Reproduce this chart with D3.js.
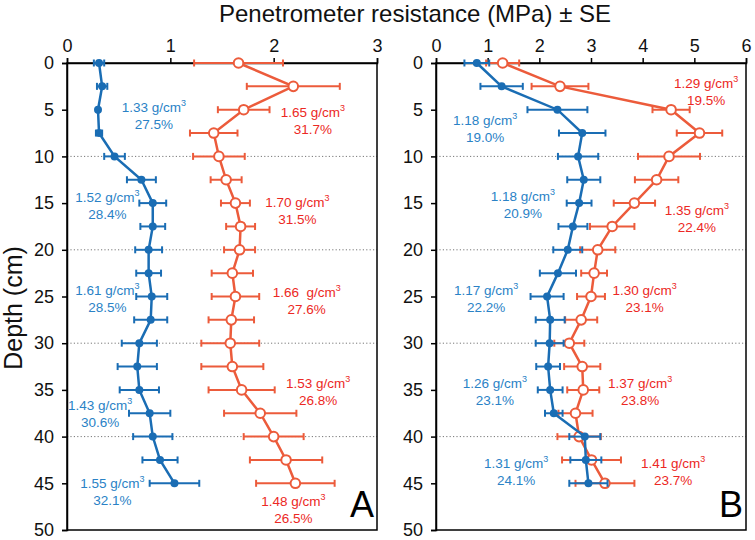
<!DOCTYPE html>
<html>
<head>
<meta charset="utf-8">
<script src="https://cdn.jsdelivr.net/npm/d3@7"></script>
<style>
	body { margin: 0; background: #fff; }
	svg text { font-family: "Liberation Sans", Arial, sans-serif; white-space: pre; }
</style>
</head>
<body>
<svg width="755" height="540"></svg>
<script>
// depth of each reading (cm)
var depths = [0, 2.5, 5, 7.5, 10, 12.5, 15, 17.5, 20, 22.5, 25, 27.5, 30, 32.5, 35, 37.5, 40, 42.5, 45];

// panel A, resistance (MPa) and SE
var aBlue   = [0.31, 0.34, 0.30, 0.31, 0.46, 0.72, 0.83, 0.83, 0.79, 0.79, 0.82, 0.81, 0.70, 0.68, 0.70, 0.80, 0.83, 0.90, 1.04];
var aBlueSE = [0.05, 0.05, 0.01, 0.03, 0.10, 0.14, 0.13, 0.12, 0.13, 0.12, 0.15, 0.16, 0.17, 0.19, 0.19, 0.20, 0.19, 0.17, 0.24];
var aRed    = [1.66, 2.19, 1.71, 1.42, 1.47, 1.54, 1.63, 1.68, 1.67, 1.60, 1.63, 1.59, 1.58, 1.60, 1.69, 1.87, 2.00, 2.12, 2.21];
var aRedSE  = [0.43, 0.45, 0.25, 0.23, 0.25, 0.15, 0.14, 0.14, 0.15, 0.20, 0.23, 0.22, 0.28, 0.30, 0.32, 0.35, 0.29, 0.35, 0.38];

// panel B
var bBlue   = [0.79, 1.27, 2.35, 2.83, 2.75, 2.86, 2.77, 2.65, 2.55, 2.36, 2.15, 2.21, 2.20, 2.17, 2.21, 2.28, 2.88, 2.90, 2.95];
var bBlueSE = [0.24, 0.41, 0.58, 0.45, 0.39, 0.32, 0.24, 0.28, 0.28, 0.35, 0.32, 0.28, 0.27, 0.23, 0.24, 0.17, 0.30, 0.30, 0.37];
var bRed    = [1.29, 2.40, 4.55, 5.10, 4.51, 4.27, 3.84, 3.41, 3.13, 3.06, 3.00, 2.81, 2.58, 2.83, 2.85, 2.70, 2.77, 3.01, 3.27];
var bRedSE  = [0.32, 0.55, 0.36, 0.44, 0.60, 0.42, 0.40, 0.43, 0.34, 0.25, 0.27, 0.31, 0.29, 0.35, 0.31, 0.33, 0.42, 0.57, 0.57];

// bulk density / water content labels
var aBlueDens = ['1.33', '1.52', '1.61', '1.43', '1.55'];
var aBluePct  = ['27.5%', '28.4%', '28.5%', '30.6%', '32.1%'];
var aRedDens  = ['1.65', '1.70', '1.66 ', '1.53', '1.48'];
var aRedPct   = ['31.7%', '31.5%', '27.6%', '26.8%', '26.5%'];
var bBlueDens = ['1.18', '1.18', '1.17', '1.26', '1.31'];
var bBluePct  = ['19.0%', '20.9%', '22.2%', '23.1%', '24.1%'];
var bRedDens  = ['1.29', '1.35', '1.30', '1.37', '1.41'];
var bRedPct   = ['19.5%', '22.4%', '23.1%', '23.8%', '23.7%'];

// where those labels sit, in data units [MPa, depth]
var aBlueAt = [[0.84, 4.7], [0.39, 14.4], [0.39, 24.3], [0.32, 36.6], [0.44, 45.0]];
var aRedAt  = [[2.38, 5.2], [2.23, 14.9], [2.32, 24.5], [2.43, 34.3], [2.19, 46.9]];
var bBlueAt = [[0.95, 6.1], [1.68, 14.2], [0.97, 24.3], [1.14, 34.3], [1.55, 42.8]];
var bRedAt  = [[5.23, 2.1], [5.05, 15.7], [4.04, 24.3], [3.95, 34.3], [4.59, 42.8]];

var blue = '#1a6db4', red = '#ec5b3b';
var blueText = '#2a82c6', redText = '#ec2824';

var svg = d3.select('svg');

var y = d3.scaleLinear()
	.domain([0, 50])
	.range([63, 530]);

function drawPanel(left, xMax, blueV, blueSE, redV, redSE, labels, letter) {
	var x = d3.scaleLinear()
		.domain([0, xMax])
		.range([left, left + 310]);

	var g = svg.append('g');

	// dotted guide lines every 10 cm
	g.selectAll('.grid')
		.data([10, 20, 30, 40])
		.enter().append('line')
		.attr('x1', x(0)).attr('x2', x(xMax))
		.attr('y1', function(d) { return y(d); })
		.attr('y2', function(d) { return y(d); })
		.attr('stroke', '#777')
		.attr('stroke-width', 1)
		.attr('stroke-dasharray', '1.2,2.2');

	// frame
	g.append('rect')
		.attr('x', x(0)).attr('y', y(0))
		.attr('width', x(xMax) - x(0))
		.attr('height', y(50) - y(0))
		.attr('fill', 'none')
		.attr('stroke', '#000')
		.attr('stroke-width', 1.5);

	var xAxis = g.append('g')
		.attr('transform', 'translate(0,' + y(0) + ')')
		.call(d3.axisTop(x).ticks(xMax).tickSize(5).tickPadding(6));
	var yAxis = g.append('g')
		.attr('transform', 'translate(' + x(0) + ',0)')
		.call(d3.axisLeft(y).tickValues(d3.range(0, 51, 5)).tickSize(5).tickPadding(8));
	[xAxis, yAxis].forEach(function(a) {
		a.select('.domain').attr('stroke-width', 1.5);
		a.selectAll('.tick line').attr('stroke-width', 1.5);
		a.selectAll('.tick text')
			.attr('font-size', 18)
			.attr('font-family', '"Liberation Sans", Arial, sans-serif')
			.attr('fill', '#111');
	});

	// one series: error bars, line, markers
	function series(vals, se, col, open) {
		var pts = depths.map(function(d, i) { return { d: d, v: vals[i], se: se[i] }; });
		var s = g.append('g');
		var eb = s.selectAll('.eb').data(pts).enter().append('g')
			.attr('stroke', col).attr('stroke-width', 2);
		eb.append('line')
			.attr('x1', function(p) { return x(p.v - p.se); })
			.attr('x2', function(p) { return x(p.v + p.se); })
			.attr('y1', function(p) { return y(p.d); })
			.attr('y2', function(p) { return y(p.d); });
		[-1, 1].forEach(function(k) {
			eb.append('line')
				.attr('x1', function(p) { return x(p.v + k * p.se); })
				.attr('x2', function(p) { return x(p.v + k * p.se); })
				.attr('y1', function(p) { return y(p.d) - 3.5; })
				.attr('y2', function(p) { return y(p.d) + 3.5; });
		});
		return { g: s, pts: pts, col: col, open: open };
	}

	function lineAndDots(sr) {
		sr.g.append('path')
			.datum(sr.pts)
			.attr('fill', 'none')
			.attr('stroke', sr.col)
			.attr('stroke-width', 2.5)
			.attr('d', d3.line()
				.x(function(p) { return x(p.v); })
				.y(function(p) { return y(p.d); }));
		sr.g.selectAll('circle').data(sr.pts).enter().append('circle')
			.attr('cx', function(p) { return x(p.v); })
			.attr('cy', function(p) { return y(p.d); })
			.attr('r', sr.open ? 4.8 : 4)
			.attr('fill', sr.open ? '#fff' : sr.col)
			.attr('stroke', sr.col)
			.attr('stroke-width', sr.open ? 2 : 0);
	}

	var r = series(redV, redSE, red, true);
	var b = series(blueV, blueSE, blue, false);
	lineAndDots(b);
	lineAndDots(r);

	// density / moisture notes
	labels.forEach(function(set) {
		set.at.forEach(function(p, i) {
			var t = g.append('text')
				.attr('x', x(p[0]))
				.attr('y', y(p[1]) + 5)
				.attr('text-anchor', 'middle')
				.attr('font-size', 13.5)
				.attr('fill', set.col);
			t.append('tspan').text(set.dens[i] + ' g/cm');
			t.append('tspan').attr('dy', -6).attr('font-size', 9).text('3');
			g.append('text')
				.attr('x', x(p[0]))
				.attr('y', y(p[1]) + 22)
				.attr('text-anchor', 'middle')
				.attr('font-size', 13.5)
				.attr('fill', set.col)
				.text(set.pct[i]);
		});
	});

	g.append('text')
		.attr('x', x(xMax) - 3)
		.attr('y', y(48.5) + 1)
		.attr('text-anchor', 'end')
		.attr('font-size', 36)
		.attr('fill', '#000')
		.text(letter);
}

drawPanel(67, 3, aBlue, aBlueSE, aRed, aRedSE, [
	{ at: aBlueAt, dens: aBlueDens, pct: aBluePct, col: blueText },
	{ at: aRedAt, dens: aRedDens, pct: aRedPct, col: redText }
], 'A');

drawPanel(436, 6, bBlue, bBlueSE, bRed, bRedSE, [
	{ at: bBlueAt, dens: bBlueDens, pct: bBluePct, col: blueText },
	{ at: bRedAt, dens: bRedDens, pct: bRedPct, col: redText }
], 'B');

// axis titles
svg.append('text')
	.attr('x', 415)
	.attr('y', 22)
	.attr('text-anchor', 'middle')
	.attr('font-size', 24)
	.attr('fill', '#111')
	.text('Penetrometer resistance (MPa) \u00b1 SE');

svg.append('text')
	.attr('transform', 'translate(22,308) rotate(-90)')
	.attr('text-anchor', 'middle')
	.attr('font-size', 25)
	.attr('fill', '#111')
	.text('Depth (cm)');
</script>
</body>
</html>
